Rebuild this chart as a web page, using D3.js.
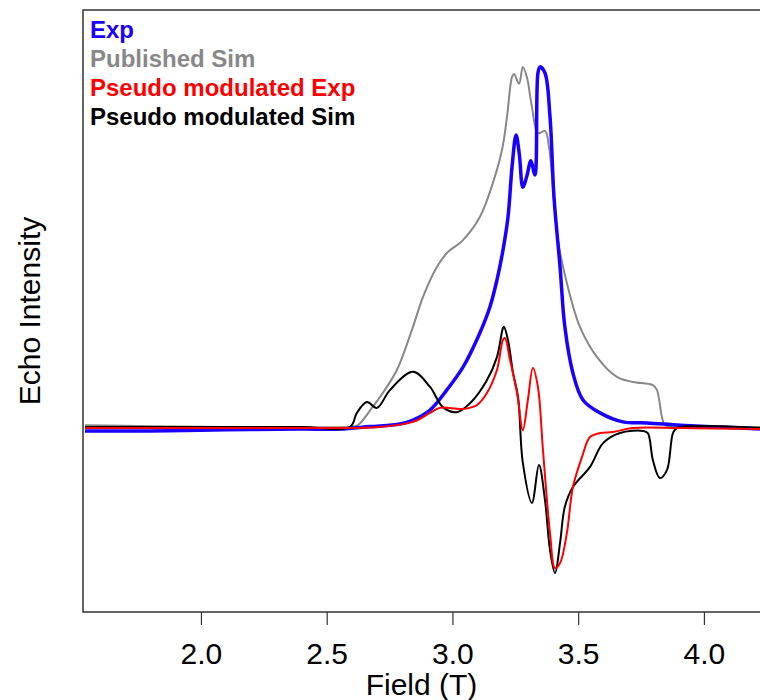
<!DOCTYPE html>
<html>
<head>
<meta charset="utf-8">
<script src="https://cdn.jsdelivr.net/npm/d3@7"></script>
<style>
    body { margin: 0; background: #fff; }
    svg { display: block; font-family: "Liberation Sans", Arial, sans-serif; }
</style>
</head>
<body>
<div id="chart"></div>
<script>
// field values (T) and echo intensities
let expField = [1.539, 1.80, 2.10, 2.40, 2.553, 2.672, 2.791, 2.843, 2.911, 2.978, 3.042, 3.109, 3.149, 3.177,
    3.201, 3.221, 3.237, 3.253, 3.266, 3.280, 3.296, 3.312, 3.328, 3.340, 3.348, 3.368, 3.388, 3.404, 3.428,
    3.447, 3.479, 3.519, 3.587, 3.678, 3.774, 3.905, 4.05, 4.223];
let expInt = [-0.008, -0.008, -0.005, -0.003, -0.003, 0.004, 0.011, 0.022, 0.050, 0.106, 0.169, 0.264, 0.336, 0.411,
    0.494, 0.586, 0.725, 0.814, 0.76, 0.669, 0.70, 0.742, 0.703, 0.986, 1.003, 0.986, 0.864, 0.640, 0.447,
    0.281, 0.153, 0.078, 0.042, 0.017, 0.014, 0.008, 0.003, -0.003];

let simField = [1.539, 1.80, 2.10, 2.40, 2.593, 2.624, 2.684, 2.712, 2.779, 2.843, 2.883, 2.938, 2.978, 3.042, 3.109,
    3.161, 3.197, 3.217, 3.237, 3.245, 3.265, 3.280, 3.296, 3.316, 3.340, 3.368, 3.384, 3.404, 3.42, 3.455,
    3.507, 3.575, 3.654, 3.718, 3.797, 3.813, 3.833, 3.845, 3.90, 4.223];
let simInt = [0.008, 0.005, 0.003, 0.003, 0.003, 0.008, 0.060, 0.086, 0.161, 0.281, 0.364, 0.447, 0.486, 0.522, 0.586,
    0.681, 0.772, 0.864, 0.975, 0.983, 0.956, 1.003, 0.975, 0.892, 0.819, 0.825, 0.78, 0.63, 0.52, 0.403,
    0.281, 0.197, 0.142, 0.128, 0.119, 0.106, 0.031, 0.008, 0.003, 0.003];

let pmExpField = [1.539, 2.10, 2.40, 2.712, 2.843, 2.911, 2.950, 3.042, 3.098, 3.137, 3.177, 3.201, 3.209, 3.229,
    3.257, 3.280, 3.300, 3.320, 3.340, 3.360, 3.388, 3.408, 3.428, 3.455, 3.479, 3.515, 3.547, 3.587, 3.638,
    3.718, 3.905, 4.223];
let pmExpInt = [0.0, 0.0, 0.0, 0.003, 0.017, 0.042, 0.056, 0.053, 0.064, 0.097, 0.161, 0.245, 0.25, 0.189,
    0.097, -0.006, 0.078, 0.167, 0.114, -0.061, -0.292, -0.389, -0.375, -0.292, -0.164, -0.081, -0.025, -0.014, -0.011,
    0.0, 0.0, -0.003];

let pmSimField = [1.539, 2.10, 2.40, 2.593, 2.620, 2.660, 2.700, 2.752, 2.843, 2.911, 2.962, 3.018, 3.070, 3.137,
    3.177, 3.201, 3.205, 3.221, 3.241, 3.261, 3.280, 3.316, 3.344, 3.368, 3.388, 3.408, 3.428, 3.447, 3.479,
    3.547, 3.599, 3.666, 3.758, 3.777, 3.797, 3.825, 3.853, 3.877, 3.893, 4.223];
let pmSimInt = [0.003, 0.003, 0.003, 0.003, 0.042, 0.072, 0.056, 0.106, 0.156, 0.114, 0.058, 0.044, 0.069, 0.133,
    0.197, 0.278, 0.281, 0.244, 0.153, 0.086, -0.097, -0.208, -0.103, -0.2, -0.339, -0.403, -0.319, -0.219, -0.164,
    -0.108, -0.042, -0.014, -0.008, -0.014, -0.089, -0.139, -0.117, -0.014, 0.0, 0.0];

let xTicks = [2.0, 2.5, 3.0, 3.5, 4.0];
let legendLabels = ["Exp", "Published Sim", "Pseudo modulated Exp", "Pseudo modulated Sim"];
let legendColors = ["#1a00ff", "#888888", "#ff0000", "#000000"];

let margin = {top: 10, right: 0, bottom: 88, left: 83};
let width = 760 - margin.left - margin.right;
let height = 700 - margin.top - margin.bottom;

let svg = d3.select("#chart").append("svg")
    .attr("width", 760)
    .attr("height", 700);

let g = svg.append("g")
    .attr("transform", "translate(" + margin.left + "," + margin.top + ")");

let x = d3.scaleLinear()
    .domain([1.531, 4.223])
    .range([0, width]);

let y = d3.scaleLinear()
    .domain([-0.511, 1.161])
    .range([height, 0]);

// clip the curves to the plot box
g.append("clipPath")
    .attr("id", "plotClip")
    .append("rect")
    .attr("width", width)
    .attr("height", height);

function zipSeries(fields, ints) {
    return fields.map(function (f, i) {
        return {field: f, val: ints[i]};
    });
}

let line = d3.line()
    .x(function (d) { return x(d.field); })
    .y(function (d) { return y(d.val); })
    .curve(d3.curveCatmullRom.alpha(0.5));

let series = [
    {data: zipSeries(simField, simInt), color: legendColors[1], w: 2},
    {data: zipSeries(expField, expInt), color: legendColors[0], w: 3.5},
    {data: zipSeries(pmSimField, pmSimInt), color: legendColors[3], w: 2},
    {data: zipSeries(pmExpField, pmExpInt), color: legendColors[2], w: 2}
];

let curves = g.append("g").attr("clip-path", "url(#plotClip)");
series.forEach(function (s) {
    curves.append("path")
        .datum(s.data)
        .attr("fill", "none")
        .attr("stroke", s.color)
        .attr("stroke-width", s.w)
        .attr("stroke-linejoin", "round")
        .attr("d", line);
});

// box: left, top and bottom edges (right edge falls outside the picture)
g.append("path")
    .attr("d", "M" + (width + 2) + ",0H0V" + height + "H" + (width + 2))
    .attr("fill", "none")
    .attr("stroke", "#333")
    .attr("stroke-width", 1.5);

// x axis
let xAxis = g.append("g")
    .attr("transform", "translate(0," + height + ")")
    .call(d3.axisBottom(x).tickValues(xTicks).tickFormat(d3.format(".1f")).tickSize(13).tickPadding(18));
xAxis.select(".domain").remove();
xAxis.selectAll("line").attr("stroke", "#333").attr("stroke-width", 1.2);
xAxis.selectAll("text")
    .attr("font-size", 30)
    .attr("font-family", "Liberation Sans, Arial, sans-serif")
    .attr("fill", "#000");

svg.append("text")
    .attr("x", margin.left + width / 2)
    .attr("y", 695)
    .attr("text-anchor", "middle")
    .attr("font-size", 30)
    .text("Field (T)");

svg.append("text")
    .attr("transform", "translate(40,311) rotate(-90)")
    .attr("text-anchor", "middle")
    .attr("font-size", 30)
    .text("Echo Intensity");

// legend
let legend = g.append("g").attr("transform", "translate(7,0)");
legendLabels.forEach(function (lab, i) {
    legend.append("text")
        .attr("x", 0)
        .attr("y", 28 + i * 29)
        .attr("font-size", 24)
        .attr("font-weight", "bold")
        .attr("fill", legendColors[i])
        .text(lab);
});
</script>
</body>
</html>
